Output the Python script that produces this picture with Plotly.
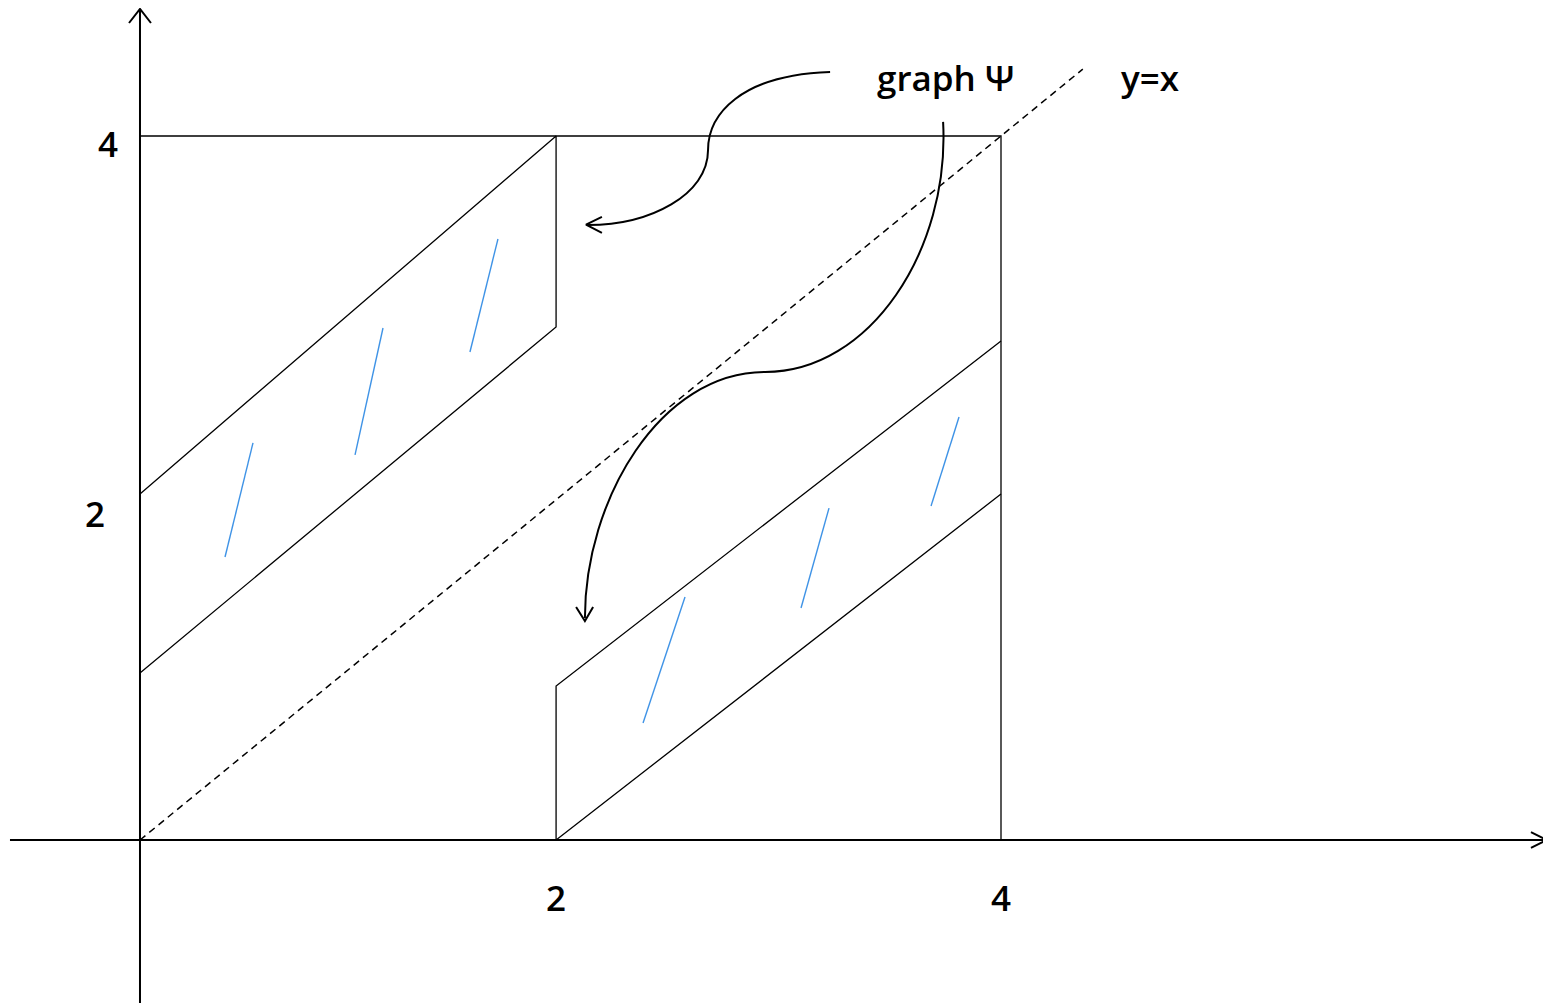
import plotly.graph_objects as go

# ---- data (diagram units) ----
# frame of the square [0,4]x[0,4] (top and right sides)
frame_x = [0, 4, 4]
frame_y = [4, 4, 0]

# left band (graph of Psi, upper-left)
left_band_x = [0, 1.933, 1.933, 0]
left_band_y = [1.966, 4.0, 2.915, 0.949]

# right band (graph of Psi, lower-right)
right_band_x = [4, 1.933, 1.933, 4]
right_band_y = [1.966, 0.0, 0.875, 2.835]

# blue hatch strokes: (x0, y0, x1, y1)
hatch_x0 = [0.395, 0.999, 1.533, 2.337, 3.071, 3.675]
hatch_y0 = [1.608, 2.188, 2.773, 0.665, 1.318, 1.898]
hatch_x1 = [0.525, 1.129, 1.663, 2.532, 3.201, 3.805]
hatch_y1 = [2.256, 2.909, 3.415, 1.381, 1.886, 2.403]

# diagonal y = x
diag_x = [0, 4.38]
diag_y = [0, 4.38]

# axes extents
xaxis_ext = [-0.604, 6.536]
yaxis_ext = [-0.926, 4.722]

# curved arrows (cubic Bezier control points)
curve1_x = [3.206, 2.787, 2.639, 2.639, 2.639, 2.369, 2.081]
curve1_y = [4.364, 4.347, 4.119, 3.920, 3.665, 3.494, 3.494]
head1_x = [2.146, 2.072, 2.146]
head1_y = [3.540, 3.497, 3.449]

curve2_x = [3.731, 3.763, 3.391, 2.904, 2.416, 2.067, 2.067]
curve2_y = [4.080, 3.352, 2.659, 2.659, 2.659, 1.932, 1.261]
head2_x = [2.026, 2.067, 2.105]
head2_y = [1.324, 1.244, 1.324]

# labels
tick_labels = ["2", "4"]
xtick_pos = [1.933, 4.0]
ytick_pos = [1.858, 3.960]
ytick_x = [-0.209, -0.149]
xtick_y = -0.327
graph_label = "graph Ψ"
graph_label_pos = (3.740, 4.330)
diag_label = "y=x"
diag_label_pos = (4.692, 4.330)

# ranges account for the 8px page offset of the plot
X_RANGE = [-0.6132, 6.5923]
Y_RANGE = [-0.9943, 4.7273]

BLACK = "#000000"
BLUE = "#3f93e6"
FONT = "Open Sans"

fig = go.Figure()

def add_line(xs, ys, width=1.3, color=BLACK, dash="solid"):
    fig.add_trace(go.Scatter(x=xs, y=ys, mode="lines",
                             line=dict(color=color, width=width, dash=dash),
                             hoverinfo="skip", showlegend=False))

# axes
add_line(xaxis_ext, [0, 0], width=2)
add_line([0, 0], yaxis_ext, width=2)
# axis arrowheads (open chevrons)
add_line([xaxis_ext[1] - 0.074, xaxis_ext[1], xaxis_ext[1] - 0.074], [0.045, 0, -0.045], width=2)
add_line([-0.051, 0, 0.051], [yaxis_ext[1] - 0.08, yaxis_ext[1], yaxis_ext[1] - 0.08], width=2)

# frame and bands
add_line(frame_x, frame_y)
add_line(left_band_x, left_band_y)
add_line(right_band_x, right_band_y)

# diagonal
add_line(diag_x, diag_y, width=1.5, dash="7px,5px")

# hatches
for a, b, c, d in zip(hatch_x0, hatch_y0, hatch_x1, hatch_y1):
    add_line([a, c], [b, d], width=1.4, color=BLUE)

# curves as bezier path shapes
def bez_path(xs, ys):
    p = f"M {xs[0]},{ys[0]}"
    for i in range(1, len(xs), 3):
        p += f" C {xs[i]},{ys[i]} {xs[i+1]},{ys[i+1]} {xs[i+2]},{ys[i+2]}"
    return p

for cx, cy in [(curve1_x, curve1_y), (curve2_x, curve2_y)]:
    fig.add_shape(type="path", path=bez_path(cx, cy), xref="x", yref="y",
                  line=dict(color=BLACK, width=2))

add_line(head1_x, head1_y, width=2)
add_line(head2_x, head2_y, width=2)

# text
txt_font = dict(family=FONT, size=35, color=BLACK, weight=600)
for lab, xp in zip(tick_labels, xtick_pos):
    fig.add_annotation(x=xp, y=xtick_y, text=lab, showarrow=False, font=txt_font)
for lab, xp, yp in zip(tick_labels, ytick_x, ytick_pos):
    fig.add_annotation(x=xp, y=yp, text=lab, showarrow=False, font=txt_font)
fig.add_annotation(x=graph_label_pos[0], y=graph_label_pos[1], text=graph_label,
                   showarrow=False, font=txt_font)
fig.add_annotation(x=diag_label_pos[0], y=diag_label_pos[1], text=diag_label,
                   showarrow=False, font=txt_font)

fig.update_layout(
    width=1551, height=1007, autosize=False,
    margin=dict(l=0, r=0, t=0, b=0),
    paper_bgcolor="white", plot_bgcolor="white",
    xaxis=dict(range=X_RANGE, visible=False, fixedrange=True),
    yaxis=dict(range=Y_RANGE, visible=False, fixedrange=True),
    showlegend=False,
)

fig.write_html("out.html")
